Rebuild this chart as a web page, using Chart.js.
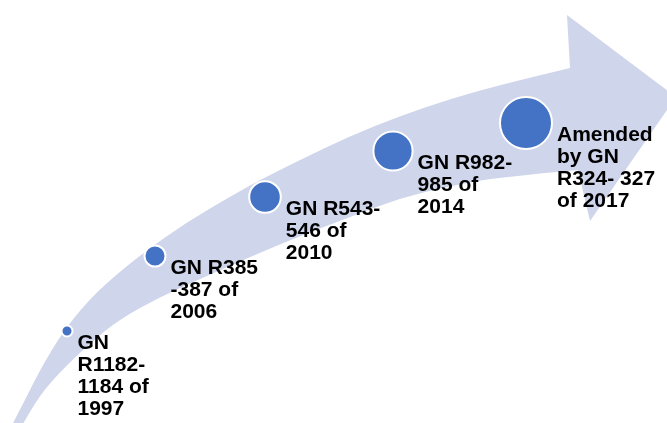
<!DOCTYPE html>
<html>
<head>
<meta charset="utf-8">
<script src="https://cdn.jsdelivr.net/npm/chart.js@4"></script>
<style>
  body { margin: 0; background: #fff; }
  #wrap { width: 667px; height: 423px; }
</style>
</head>
<body>
<div id="wrap"><canvas id="timeline" width="667" height="423"></canvas></div>
<script>
// timeline data
const years = ["1997", "2006", "2010", "2014", "2017"];
const notes = [
  ["GN", "R1182-", "1184 of", "1997"],
  ["GN R385", "-387 of", "2006"],
  ["GN R543-", "546 of", "2010"],
  ["GN R982-", "985 of", "2014"],
  ["Amended", "by GN", "R324- 327", "of 2017"]
];
const xPos = [67, 155, 265, 393, 526];
const yPos = [331, 256, 197, 151, 123];
const bubbleSize = [5.5, 10.5, 15.8, 19.6, 26];

// background arrow outline (same units as the scales)
const arrowUpper = [[11, 427], [25, 400], [40, 370], [62, 333], [87, 302], [110, 280], [143, 253],
  [187, 222], [233, 195], [260, 180], [300, 160], [350, 136], [400, 116], [450, 99], [500, 85], [570, 68]];
const arrowHead = [[567, 15], [676, 97], [590, 221], [578, 170]];
const arrowLower = [[578, 170], [500, 177], [450, 186], [400, 198], [350, 217], [300, 236], [250, 257],
  [200, 279], [160, 297], [120, 319], [90, 343], [60, 372], [40, 395], [21, 427]];

function smoothPath(ctx, pts, first) {
  if (first) ctx.moveTo(pts[0][0], pts[0][1]);
  else ctx.lineTo(pts[0][0], pts[0][1]);
  for (let i = 1; i < pts.length - 1; i++) {
    const mx = (pts[i][0] + pts[i + 1][0]) / 2;
    const my = (pts[i][1] + pts[i + 1][1]) / 2;
    ctx.quadraticCurveTo(pts[i][0], pts[i][1], mx, my);
  }
  const last = pts[pts.length - 1];
  ctx.lineTo(last[0], last[1]);
}

const arrowPlugin = {
  id: "arrow",
  beforeDatasetsDraw(chart) {
    const ctx = chart.ctx;
    const xs = chart.scales.x, ys = chart.scales.y;
    const px = p => [xs.getPixelForValue(p[0]), ys.getPixelForValue(p[1])];
    ctx.save();
    ctx.beginPath();
    smoothPath(ctx, arrowUpper.map(px), true);
    arrowHead.map(px).forEach(p => ctx.lineTo(p[0], p[1]));
    smoothPath(ctx, arrowLower.map(px), false);
    ctx.closePath();
    ctx.fillStyle = "#CFD5EA";
    ctx.fill();
    ctx.restore();
  }
};

const notePlugin = {
  id: "notes",
  afterDatasetsDraw(chart) {
    const ctx = chart.ctx;
    const meta = chart.getDatasetMeta(0);
    ctx.save();
    ctx.font = "bold 21px 'Liberation Sans', Arial, sans-serif";
    ctx.fillStyle = "#000";
    ctx.textBaseline = "alphabetic";
    meta.data.forEach((el, i) => {
      const r = bubbleSize[i] + 1;
      const x = el.x + r + 4;
      const y = el.y + 18;
      notes[i].forEach((line, j) => ctx.fillText(line, x, y + j * 22));
    });
    ctx.restore();
  }
};

new Chart(document.getElementById("timeline"), {
  type: "bubble",
  data: {
    labels: years,
    datasets: [{
      data: years.map((y, i) => ({ x: xPos[i], y: yPos[i], r: bubbleSize[i] })),
      backgroundColor: "#4472C4",
      borderColor: "#FFFFFF",
      borderWidth: 2,
      hoverRadius: 0
    }]
  },
  options: {
    responsive: false,
    animation: false,
    layout: { padding: 0, autoPadding: false },
    plugins: { legend: { display: false }, tooltip: { enabled: false } },
    scales: {
      x: { display: false, min: 0, max: 667 },
      y: { display: false, min: 0, max: 423, reverse: true }
    }
  },
  plugins: [arrowPlugin, notePlugin]
});
</script>
</body>
</html>
